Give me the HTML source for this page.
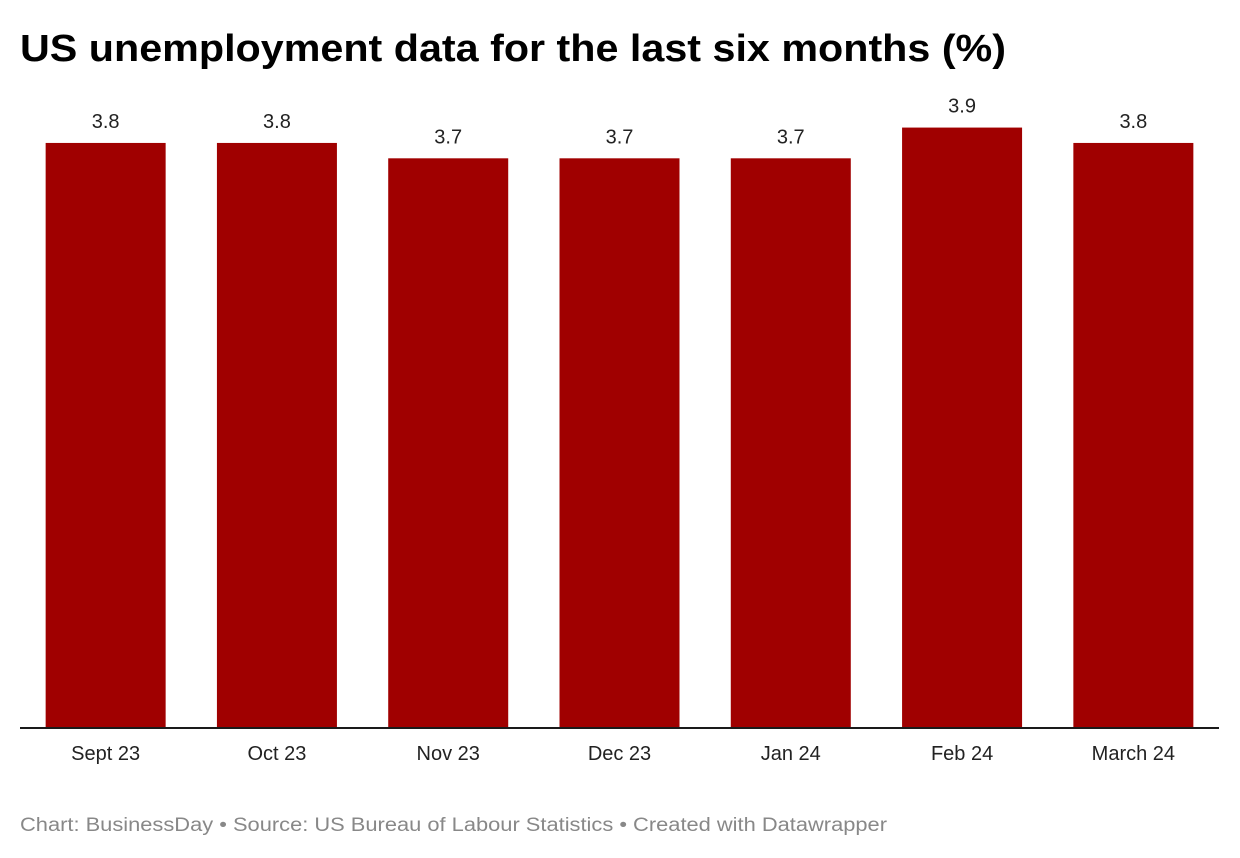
<!DOCTYPE html>
<html><head><meta charset="utf-8"><style>
html,body{margin:0;padding:0;background:#fff;}
svg{display:block;font-family:"Liberation Sans",sans-serif;}
</style></head><body>
<svg id="chart" width="1240" height="858" viewBox="0 0 1240 858">
<text x="20" y="61" font-size="38" font-weight="bold" fill="#000" textLength="986" lengthAdjust="spacingAndGlyphs">US unemployment data for the last six months (%)</text>
<g id="bars"></g>
<line x1="20" x2="1219" y1="728" y2="728" stroke="#1a1a1a" stroke-width="2"/>
<text x="20" y="831" font-size="19" fill="#888" textLength="867" lengthAdjust="spacingAndGlyphs">Chart: BusinessDay  • Source: US Bureau of Labour Statistics  • Created with Datawrapper</text>
</svg>
<script>
const categories = ["Sept 23","Oct 23","Nov 23","Dec 23","Jan 24","Feb 24","March 24"];
const values = [3.8,3.8,3.7,3.7,3.7,3.9,3.8];
const valueLabels = ["3.8","3.8","3.7","3.7","3.7","3.9","3.8"];

const NS="http://www.w3.org/2000/svg";
const x0=20,x1=1219,baseY=727,pxPerUnit=153.7;
const step=(x1-x0)/categories.length,barW=120;
const xScale=i=>x0+i*step+(step-barW)/2;
const yScale=v=>baseY-v*pxPerUnit;
const g=document.getElementById('bars');
categories.forEach((c,i)=>{
  const x=xScale(i),y=yScale(values[i]);
  const r=document.createElementNS(NS,'rect');
  
  
  r.setAttribute('x',x);r.setAttribute('y',y);
  r.setAttribute('width',barW);r.setAttribute('height',baseY-y);
  r.setAttribute('fill','#a00000');
  g.appendChild(r);
  const t=document.createElementNS(NS,'text');
  
  
  t.setAttribute('x',x+barW/2);t.setAttribute('y',y-15);
  t.setAttribute('text-anchor','middle');t.setAttribute('font-size','20');t.setAttribute('fill','#222');
  t.textContent=valueLabels[i];
  g.appendChild(t);
  const a=document.createElementNS(NS,'text');
  
  
  a.setAttribute('x',x+barW/2);a.setAttribute('y',760);
  a.setAttribute('text-anchor','middle');a.setAttribute('font-size','20');a.setAttribute('fill','#222');
  a.textContent=c;
  g.appendChild(a);
});
</script>
</body></html>
